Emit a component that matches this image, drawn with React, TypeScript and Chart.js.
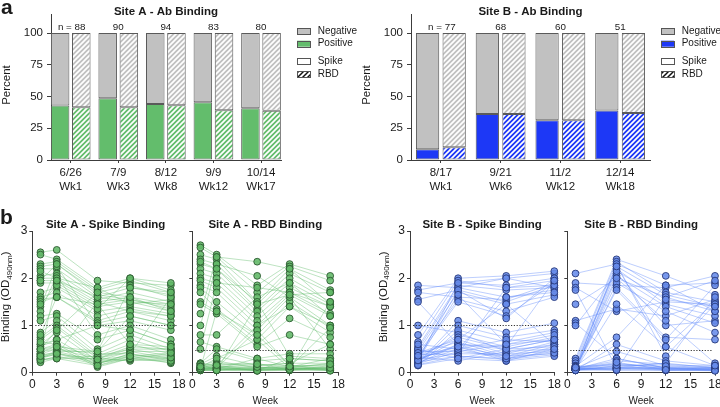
import React, { useEffect, useRef } from 'react';
import { Chart, registerables } from 'chart.js';
Chart.register(...registerables);

const FONT = '"Liberation Sans", Arial, Helvetica, sans-serif';
const TXT = '#1a1a1a';
const AXIS = '#3c3c3c';
const GREY = '#c1c1c1';
const GREEN = '#63bd6c';
const BLUE = '#1d38f6';

// ---------- Panel a data ----------
const siteADates = ['6/26', '7/9', '8/12', '9/9', '10/14'];
const siteAWeekLabels = ['Wk1', 'Wk3', 'Wk8', 'Wk12', 'Wk17'];
const siteAN = [88, 90, 94, 83, 80];
const siteASpikePos = [42.9, 48.7, 44.2, 45.5, 40.8];
const siteARbdPos = [41.6, 41.6, 43.2, 39.2, 38.7];

const siteBDates = ['8/17', '9/21', '11/2', '12/14'];
const siteBWeekLabels = ['Wk1', 'Wk6', 'Wk12', 'Wk18'];
const siteBN = [77, 68, 60, 51];
const siteBSpikePos = [8.4, 36.3, 31.3, 38.9];
const siteBRbdPos = [10.0, 36.3, 31.3, 37.1];

const percentTicks = [0, 25, 50, 75, 100];
const legendLabels = ['Negative', 'Positive', 'Spike', 'RBD'];

// ---------- Panel b data ----------
const siteAWeeks = [1, 3, 8, 12, 17];
const siteBWeeks = [1, 6, 12, 18];
const spikeCutoff = 1.02;
const rbdCutoff = 0.49;

const siteASpike = [
  [2.55, 2.6, 1.95, 1.9, 1.85], [2.5, 2.4, 1.8, 2.0, 1.9], [2.3, 2.35, 1.75, 1.95, 1.7],
  [2.25, 2.3, 1.7, 1.85, 1.6], [2.2, 2.2, 1.6, 1.8, 1.65], [2.05, 2.1, 1.55, 1.7, 1.5],
  [2.0, 2.0, 1.5, 1.6, 1.45], [1.95, 1.95, 1.45, 1.55, 1.4], [1.9, 1.9, 1.4, 1.5, 1.3],
  [1.7, 1.8, 1.3, 1.4, 1.25], [1.6, 1.7, 1.2, 1.35, 1.2], [1.55, 1.6, 1.1, 1.3, 1.1],
  [1.5, 1.6, 1.05, 1.2, 1.0], [1.4, 2.25, 1.0, 1.1, 0.9], [1.3, 2.05, 0.8, 1.0, 0.7],
  [1.2, 1.25, 0.7, 0.9, 0.6], [1.1, 1.2, 0.5, 0.8, 0.5], [1.95, 2.3, 1.65, 1.55, 1.35],
  [2.15, 2.0, 1.8, 1.45, 1.55], [1.45, 1.85, 1.35, 2.0, 1.75],
  [0.85, 1.1, 0.4, 0.7, 0.45], [0.75, 1.0, 0.35, 0.6, 0.4], [0.7, 0.95, 0.3, 0.5, 0.35],
  [0.6, 0.85, 0.25, 0.45, 0.3], [0.55, 0.7, 0.2, 0.4, 0.25], [0.5, 0.6, 0.15, 0.35, 0.2],
  [0.45, 0.55, 0.12, 0.3, 0.22], [0.4, 0.5, 0.3, 0.25, 0.3], [0.35, 0.45, 0.25, 0.3, 0.4],
  [0.3, 0.4, 0.2, 0.35, 0.35], [0.25, 0.35, 0.18, 0.4, 0.28], [0.22, 0.3, 0.3, 0.45, 0.45],
  [0.28, 0.32, 0.35, 0.5, 0.5], [0.33, 0.38, 1.5, 1.3, 1.2], [0.4, 1.95, 1.6, 1.5, 1.45],
  [0.5, 0.9, 1.7, 1.6, 1.3], [0.6, 0.7, 1.0, 0.9, 0.6], [0.3, 0.45, 0.45, 1.2, 1.0],
  [0.65, 0.6, 0.3, 0.55, 0.5], [0.45, 0.5, 0.4, 0.4, 1.6], [0.38, 0.42, 0.22, 0.28, 0.25],
  [0.27, 0.3, 0.15, 0.3, 0.32], [0.5, 0.55, 0.45, 1.8, 1.7], [0.35, 0.4, 0.28, 0.35, 0.42],
  [0.8, 1.6, 1.45, 0.6, 0.55],
];

const siteARbd = [
  [2.7, 2.5, 1.85, 2.3, 2.05], [2.65, 2.45, 1.7, 2.25, 1.95], [2.5, 2.4, 1.5, 2.2, 1.75],
  [2.4, 2.3, 1.45, 2.1, 1.7], [2.3, 2.2, 1.35, 2.0, 1.5], [2.2, 2.1, 1.3, 1.9, 1.45],
  [2.1, 2.0, 1.2, 1.8, 1.4], [2.0, 1.9, 1.1, 1.7, 1.25], [1.95, 1.8, 1.0, 1.65, 1.2],
  [1.85, 1.7, 0.9, 1.6, 1.0], [1.8, 1.5, 0.8, 1.5, 0.95], [1.7, 1.35, 0.7, 1.4, 0.85],
  [1.5, 1.3, 0.6, 1.15, 0.75], [1.45, 1.25, 0.55, 0.8, 0.6], [1.25, 2.45, 2.35, 2.2, 1.45],
  [1.0, 2.3, 2.05, 1.6, 0.5], [0.8, 0.8, 1.6, 1.9, 1.2], [0.65, 0.55, 0.3, 0.4, 0.4],
  [0.5, 1.9, 1.8, 1.7, 1.4], [2.35, 2.2, 1.5, 0.35, 0.3],
  [0.2, 0.5, 0.25, 0.3, 0.25], [0.18, 0.35, 0.15, 0.2, 0.2], [0.15, 0.25, 0.1, 0.15, 0.15],
  [0.12, 0.15, 0.08, 0.1, 0.12], [0.1, 0.1, 0.05, 0.08, 0.1], [0.08, 0.08, 0.06, 0.06, 0.08],
  [0.06, 0.05, 0.04, 0.05, 0.06], [0.05, 0.06, 0.05, 0.07, 0.05], [0.1, 0.12, 0.1, 0.12, 0.3],
  [0.07, 0.09, 0.07, 0.09, 0.09], [0.15, 0.2, 0.12, 0.1, 0.2], [0.05, 0.07, 0.08, 0.06, 0.07],
  [0.09, 0.11, 0.06, 0.08, 0.1], [0.2, 0.15, 1.0, 1.4, 1.0], [0.12, 0.3, 0.7, 0.1, 0.08],
  [0.06, 0.1, 0.9, 0.15, 0.05], [0.1, 0.08, 0.3, 0.12, 0.95], [0.18, 0.05, 1.45, 1.65, 1.7],
  [0.08, 0.12, 0.15, 0.2, 0.6], [0.14, 0.18, 0.2, 0.05, 0.15], [0.05, 0.06, 0.09, 0.1, 0.04],
  [0.11, 0.14, 0.04, 0.3, 0.25], [0.07, 0.05, 0.12, 0.07, 1.5], [0.09, 1.3, 0.8, 0.15, 0.1],
  [0.13, 0.16, 0.18, 0.13, 0.18],
];

const siteBSpike = [
  [1.85, 1.8, 2.0, 2.1], [1.75, 1.9, 1.85, 2.0], [1.7, 1.6, 1.55, 1.9], [1.55, 1.75, 1.5, 1.85],
  [1.5, 0.6, 0.5, 0.7], [1.0, 0.85, 0.45, 0.6], [0.8, 2.0, 2.05, 2.15], [0.65, 1.95, 1.8, 1.95],
  [0.55, 1.85, 1.75, 1.8], [0.5, 1.8, 1.6, 1.75], [0.45, 1.7, 1.45, 1.65], [0.4, 1.55, 1.3, 1.6],
  [0.35, 1.5, 1.2, 1.9], [0.3, 1.75, 1.15, 2.0], [0.25, 1.9, 2.0, 1.8], [0.2, 1.1, 0.85, 1.05],
  [0.18, 1.0, 0.75, 0.9], [0.15, 0.9, 0.65, 0.85], [0.3, 0.8, 0.55, 0.75], [0.35, 0.75, 0.5, 0.7],
  [0.25, 0.7, 0.4, 0.65], [0.4, 0.65, 0.35, 0.6], [0.2, 0.6, 0.3, 0.55], [0.3, 0.55, 0.25, 0.5],
  [0.22, 0.5, 0.3, 0.45], [0.45, 0.45, 0.35, 0.4], [0.28, 0.4, 0.4, 0.45], [0.17, 0.35, 0.28, 0.38],
  [0.5, 0.3, 0.25, 0.35], [0.33, 0.25, 0.45, 0.5], [0.6, 0.5, 1.6, 1.7], [0.38, 0.4, 1.8, 1.85],
  [0.27, 0.6, 0.55, 1.95], [0.19, 0.45, 0.6, 0.8], [0.42, 0.7, 1.45, 0.6], [0.23, 0.35, 0.3, 0.42],
  [0.32, 0.5, 0.7, 0.65], [0.16, 0.3, 0.5, 0.55], [0.26, 1.65, 0.6, 0.7], [0.36, 0.55, 0.35, 0.5],
];

const siteBRbd = [
  [2.1, 2.3, 1.85, 1.9], [1.9, 1.85, 1.8, 2.05], [1.8, 1.3, 1.5, 1.45], [1.75, 0.1, 0.2, 0.1],
  [1.45, 2.0, 1.6, 1.3], [1.1, 1.35, 1.2, 1.55], [1.05, 0.3, 0.1, 0.05], [1.0, 2.1, 1.0, 1.1],
  [0.3, 2.4, 2.05, 1.65], [0.25, 2.35, 1.7, 1.5], [0.2, 2.25, 1.65, 1.4], [0.15, 2.2, 1.45, 1.2],
  [0.1, 2.05, 1.4, 1.05], [0.08, 1.9, 1.3, 0.85], [0.05, 1.8, 0.75, 0.7], [0.12, 1.75, 0.7, 1.85],
  [0.06, 1.45, 0.55, 1.5], [0.09, 2.3, 0.35, 1.45], [0.07, 2.0, 1.1, 0.2], [0.14, 0.75, 1.85, 1.3],
  [0.05, 0.6, 0.25, 0.15], [0.1, 0.45, 0.15, 0.1], [0.08, 0.3, 0.1, 0.08], [0.06, 0.2, 0.08, 0.06],
  [0.05, 0.15, 0.06, 0.05], [0.07, 0.1, 0.05, 0.07], [0.09, 0.08, 0.07, 0.09], [0.11, 0.12, 0.09, 0.11],
  [0.06, 0.05, 0.05, 0.06], [0.08, 0.07, 0.1, 0.08], [0.13, 0.18, 0.12, 0.1], [0.05, 0.09, 0.08, 0.05],
  [0.07, 0.11, 0.11, 0.07], [0.1, 0.25, 0.18, 0.12], [0.06, 0.14, 0.2, 1.6], [0.09, 0.06, 1.6, 1.95],
  [0.12, 0.16, 0.14, 0.15], [0.08, 0.22, 0.06, 0.04], [0.05, 2.15, 1.55, 1.4], [0.11, 2.25, 0.55, 0.15],
];

// ---------- helpers ----------
function hatch(ctx: CanvasRenderingContext2D, color: string, stripe: string, lw: number) {
  const s = 5;
  const c = document.createElement('canvas');
  c.width = s; c.height = s;
  const x = c.getContext('2d')!;
  x.fillStyle = color; x.fillRect(0, 0, s, s);
  x.strokeStyle = stripe; x.lineWidth = lw;
  x.beginPath();
  x.moveTo(-1, s + 1); x.lineTo(s + 1, -1);
  x.moveTo(-1, 1); x.lineTo(1, -1);
  x.moveTo(s - 1, s + 1); x.lineTo(s + 1, s - 1);
  x.stroke();
  return ctx.createPattern(c, 'repeat')!;
}

function font(size: number, bold = false) {
  return `${bold ? 'bold ' : ''}${size}px ${FONT}`;
}

type BarOpts = {
  dates: string[]; weekLabels: string[]; ns: number[]; spikePos: number[]; rbdPos: number[];
  color: string; title: string; pad: { left: number; right: number; top: number; bottom: number };
  xMin: number; xMax: number; legendX: number; panelLetter?: string;
};

function barChart(canvas: HTMLCanvasElement, o: BarOpts) {
  const ctx = canvas.getContext('2d')!;
  const greyHatch = hatch(ctx, GREY, '#ffffff', 1.7);
  const colHatch = hatch(ctx, o.color, '#ffffff', 1.7);
  const legendHatch = hatch(ctx, '#ffffff', '#111111', 1.5);
  const common = { borderColor: '#5a5a5a', borderWidth: 1, borderSkipped: false as const };
  const decor = {
    id: 'decorBar',
    afterDraw(chart: any) {
      const { ctx: c, chartArea: a, scales } = chart;
      c.save();
      c.fillStyle = TXT;
      c.textAlign = 'center';
      c.textBaseline = 'middle';
      c.font = font(11.5, true);
      c.fillText(o.title, (a.left + a.right) / 2, a.top - 2.3);
      c.font = font(9.8);
      c.textBaseline = 'alphabetic';
      o.ns.forEach((n, i) => {
        c.fillText(i === 0 ? `n = ${n}` : String(n), scales.x.getPixelForValue(i) + (i === 0 ? 1 : 0), scales.y.getPixelForValue(100) - 2.8);
      });
      // y title
      c.save();
      c.translate(a.left - 44, (a.top + a.bottom) / 2 - 2);
      c.rotate(-Math.PI / 2);
      c.font = font(11.5);
      c.textBaseline = 'middle';
      c.fillText('Percent', 0, 0);
      c.restore();
      // legend
      const fills = [GREY, o.color, '#ffffff', legendHatch];
      const dys = [17.3, 29.7, 47, 60];
      c.textAlign = 'left';
      c.textBaseline = 'middle';
      c.font = font(10);
      legendLabels.forEach((lab, i) => {
        const y = a.top + dys[i];
        c.fillStyle = fills[i];
        c.fillRect(o.legendX, y - 3, 13, 6);
        c.strokeStyle = '#555';
        c.lineWidth = 1;
        c.strokeRect(o.legendX + 0.5, Math.round(y - 3) + 0.5, 13, 6);
        c.fillStyle = TXT;
        c.fillText(lab, o.legendX + 20.7, y);
      });
      if (o.panelLetter) {
        c.font = font(21, true);
        c.textAlign = 'left';
        c.textBaseline = 'alphabetic';
        c.fillText(o.panelLetter, 1, 13.5);
      }
      c.restore();
    },
  };
  return new Chart(canvas, {
    type: 'bar',
    data: {
      datasets: [
        { label: 'Spike Positive', stack: 'spike', data: o.spikePos.map((v, i) => ({ x: i, y: v })), backgroundColor: o.color, ...common },
        { label: 'Spike Negative', stack: 'spike', data: o.spikePos.map((v, i) => ({ x: i, y: 100 - v })), backgroundColor: GREY, ...common },
        { label: 'RBD Positive', stack: 'rbd', data: o.rbdPos.map((v, i) => ({ x: i, y: v })), backgroundColor: colHatch, ...common },
        { label: 'RBD Negative', stack: 'rbd', data: o.rbdPos.map((v, i) => ({ x: i, y: 100 - v })), backgroundColor: greyHatch, ...common },
      ] as any,
    },
    options: {
      responsive: false,
      animation: false,
      events: [],
      layout: { padding: o.pad },
      datasets: { bar: { categoryPercentage: 0.89, barPercentage: 0.875 } },
      plugins: { legend: { display: false }, tooltip: { enabled: false }, title: { display: false } },
      scales: {
        x: {
          type: 'linear', stacked: true, min: o.xMin, max: o.xMax, offset: false,
          afterBuildTicks: (s: any) => { s.ticks = o.dates.map((_, i) => ({ value: i })); },
          afterFit: (s: any) => { s.height = 35; s.paddingLeft = 0; s.paddingRight = 0; },
          ticks: {
            autoSkip: false, maxRotation: 0, padding: 3, color: TXT,
            font: { family: FONT, size: 11.5 },
            callback: (_v: any, i: number) => [o.dates[i], o.weekLabels[i]],
          },
          grid: { display: true, offset: false, drawOnChartArea: false, drawTicks: true, tickLength: 3, color: AXIS, lineWidth: 1 },
          border: { display: true, color: AXIS, width: 1 },
        },
        y: {
          stacked: true, min: 0, max: 115,
          afterBuildTicks: (s: any) => { s.ticks = percentTicks.map((v) => ({ value: v })); },
          afterFit: (s: any) => { s.width = 40; s.paddingTop = 0; s.paddingBottom = 0; },
          ticks: { padding: 4, color: TXT, font: { family: FONT, size: 11.5 } },
          grid: { display: true, drawOnChartArea: false, drawTicks: true, tickLength: 4, color: AXIS, lineWidth: 1 },
          border: { display: true, color: AXIS, width: 1 },
        },
      },
    } as any,
    plugins: [decor],
  });
}

type SpagOpts = {
  weeks: number[]; subjects: number[][]; cutoff: number; title: string;
  pad: { left: number; right: number; top: number; bottom: number };
  lineCol: string; ptFill: string; ptBorder: string; yLabels: boolean; panelLetter?: string;
};

function drawBindingTitle(c: CanvasRenderingContext2D, cx: number, cy: number) {
  c.save();
  c.translate(cx, cy);
  c.rotate(-Math.PI / 2);
  const main = font(11.5);
  const sub = font(8);
  c.font = main;
  const w1 = c.measureText('Binding (OD').width;
  const w3 = c.measureText(')').width;
  c.font = sub;
  const w2 = c.measureText('490nm').width;
  let x = -(w1 + w2 + w3) / 2;
  c.textAlign = 'left';
  c.textBaseline = 'middle';
  c.fillStyle = TXT;
  c.font = main; c.fillText('Binding (OD', x, 0); x += w1;
  c.font = sub; c.fillText('490nm', x, 3.5); x += w2;
  c.font = main; c.fillText(')', x, 0);
  c.restore();
}

function spaghetti(canvas: HTMLCanvasElement, o: SpagOpts) {
  const lines = o.subjects.map((row) => ({
    data: row.map((v, i) => ({ x: o.weeks[i], y: v })),
    borderColor: o.lineCol, borderWidth: 0.75, pointRadius: 0, order: 1, clip: false, tension: 0, fill: false,
  }));
  const points = {
    data: o.subjects.flatMap((row) => row.map((v, i) => ({ x: o.weeks[i], y: v }))),
    showLine: false, pointRadius: 3.4, pointBackgroundColor: o.ptFill, pointBorderColor: o.ptBorder,
    pointBorderWidth: 0.9, order: 0, clip: false,
  };
  const decor = {
    id: 'decorSpag',
    afterDatasetsDraw(chart: any) {
      const { ctx: c, chartArea: a, scales } = chart;
      c.save();
      const y = Math.round(scales.y.getPixelForValue(o.cutoff)) + 0.5;
      c.setLineDash([1.2, 1.6]);
      c.strokeStyle = '#333';
      c.lineWidth = 1;
      c.beginPath();
      c.moveTo(a.left + 3, y);
      c.lineTo(a.right - 2, y);
      c.stroke();
      c.restore();
    },
    afterDraw(chart: any) {
      const { ctx: c, chartArea: a } = chart;
      c.save();
      c.fillStyle = TXT;
      c.textAlign = 'center';
      c.textBaseline = 'middle';
      c.font = font(11.5, true);
      c.fillText(o.title, (a.left + a.right) / 2, a.top - 6);
      c.font = font(10);
      c.fillText('Week', (a.left + a.right) / 2, a.bottom + 29);
      if (o.yLabels) drawBindingTitle(c, a.left - 26.3, (a.top + a.bottom) / 2 - 5);
      if (o.panelLetter) {
        c.font = font(21, true);
        c.textAlign = 'left';
        c.textBaseline = 'alphabetic';
        c.fillText(o.panelLetter, 0, 224);
      }
      c.restore();
    },
  };
  return new Chart(canvas, {
    type: 'line',
    data: { datasets: [...lines, points] as any },
    options: {
      responsive: false,
      animation: false,
      events: [],
      layout: { padding: o.pad },
      plugins: { legend: { display: false }, tooltip: { enabled: false }, title: { display: false } },
      scales: {
        x: {
          type: 'linear', min: 0, max: 18, offset: false,
          afterFit: (s: any) => { s.height = 20; s.paddingLeft = 0; s.paddingRight = 0; },
          ticks: { stepSize: 3, padding: 2, color: TXT, font: { family: FONT, size: 12 }, maxRotation: 0, autoSkip: false },
          grid: { display: true, drawOnChartArea: false, drawTicks: true, tickLength: 3, color: AXIS, lineWidth: 1 },
          border: { display: true, color: AXIS, width: 1 },
        },
        y: {
          type: 'linear', min: 0, max: 3,
          afterFit: (s: any) => { s.width = 25; s.paddingTop = 0; s.paddingBottom = 0; },
          ticks: {
            stepSize: 1, padding: 2, color: TXT, font: { family: FONT, size: 12 },
            callback: (v: any) => (o.yLabels ? String(v) : ''),
          },
          grid: { display: true, drawOnChartArea: false, drawTicks: true, tickLength: 3, color: AXIS, lineWidth: 1 },
          border: { display: true, color: AXIS, width: 1 },
        },
      },
    } as any,
    plugins: [decor],
  });
}

const GREEN_LINE = 'rgba(95,188,105,0.55)';
const GREEN_PT = 'rgba(98,184,104,0.88)';
const GREEN_PT_B = '#2c5a31';
const BLUE_LINE = 'rgba(95,135,250,0.55)';
const BLUE_PT = 'rgba(104,140,234,0.88)';
const BLUE_PT_B = '#27397a';

export default function App() {
  const r0 = useRef<HTMLCanvasElement>(null);
  const r1 = useRef<HTMLCanvasElement>(null);
  const r2 = useRef<HTMLCanvasElement>(null);
  const r3 = useRef<HTMLCanvasElement>(null);
  const r4 = useRef<HTMLCanvasElement>(null);
  const r5 = useRef<HTMLCanvasElement>(null);
  const refs = [r0, r1, r2, r3, r4, r5];

  useEffect(() => {
    const charts: Chart[] = [];
    charts.push(barChart(r0.current!, {
      dates: siteADates, weekLabels: siteAWeekLabels, ns: siteAN, spikePos: siteASpikePos, rbdPos: siteARbdPos,
      color: GREEN, title: 'Site A - Ab Binding', pad: { left: 11, right: 439, top: 14, bottom: 212 },
      xMin: -0.414, xMax: 4.42, legendX: 297, panelLetter: 'a',
    }));
    charts.push(barChart(r1.current!, {
      dates: siteBDates, weekLabels: siteBWeekLabels, ns: siteBN, spikePos: siteBSpikePos, rbdPos: siteBRbdPos,
      color: BLUE, title: 'Site B - Ab Binding', pad: { left: 371, right: 70, top: 14, bottom: 212 },
      xMin: -0.5, xMax: 3.5, legendX: 661,
    }));
    charts.push(spaghetti(r2.current!, {
      weeks: siteAWeeks, subjects: siteASpike, cutoff: spikeCutoff, title: 'Site A - Spike Binding',
      pad: { left: 7.3, right: 541, top: 231, bottom: 14.3 }, lineCol: GREEN_LINE, ptFill: GREEN_PT, ptBorder: GREEN_PT_B,
      yLabels: true, panelLetter: 'b',
    }));
    charts.push(spaghetti(r3.current!, {
      weeks: siteAWeeks, subjects: siteARbd, cutoff: rbdCutoff, title: 'Site A - RBD Binding',
      pad: { left: 167.3, right: 381.7, top: 231, bottom: 14.3 }, lineCol: GREEN_LINE, ptFill: GREEN_PT, ptBorder: GREEN_PT_B,
      yLabels: false,
    }));
    charts.push(spaghetti(r4.current!, {
      weeks: siteBWeeks, subjects: siteBSpike, cutoff: spikeCutoff, title: 'Site B - Spike Binding',
      pad: { left: 385, right: 165.7, top: 231, bottom: 14.3 }, lineCol: BLUE_LINE, ptFill: BLUE_PT, ptBorder: BLUE_PT_B,
      yLabels: true,
    }));
    charts.push(spaghetti(r5.current!, {
      weeks: siteBWeeks, subjects: siteBRbd, cutoff: rbdCutoff, title: 'Site B - RBD Binding',
      pad: { left: 542.3, right: 5, top: 231, bottom: 14.3 }, lineCol: BLUE_LINE, ptFill: BLUE_PT, ptBorder: BLUE_PT_B,
      yLabels: false,
    }));
    return () => charts.forEach((c) => c.destroy());
  }, []);

  return (
    <div style={{ position: 'fixed', left: 0, top: 0, width: 720, height: 407, background: '#ffffff', overflow: 'hidden' }}>
      {refs.map((r, i) => (
        <canvas key={i} ref={r} width={720} height={407} style={{ position: 'absolute', left: 0, top: 0 }} />
      ))}
    </div>
  );
}
